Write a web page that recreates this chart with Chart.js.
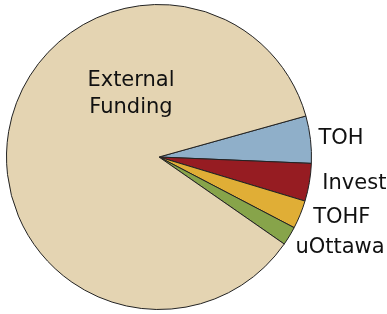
<!DOCTYPE html>
<html>
<head>
<meta charset="utf-8">
<script src="https://cdn.jsdelivr.net/npm/chart.js@4/dist/chart.umd.min.js"></script>
<style>
html,body{margin:0;padding:0;background:#fff;}
#wrap{width:387px;height:314px;position:relative;}
</style>
</head>
<body>
<div id="wrap"><canvas id="c" width="387" height="314"></canvas></div>
<script>
const categories = ["TOH", "Invest", "TOHF", "uOttawa", "External Funding"];
const shares = [5, 4, 3, 2, 86];
const sliceColors = ["#8FAFC9", "#961C22", "#E0AE36", "#87A44A", "#E4D4B2"];

// label placement (style only): offset from each slice's outer mid-point
const labelOffsets = [[8, -1], [13, 1], [13, 3], [6, 12]];
const bigLabelOffset = [-28, -63];

const labelPlugin = {
  id: 'sliceLabels',
  afterDatasetsDraw(chart) {
    const ctx = chart.ctx;
    const meta = chart.getDatasetMeta(0);
    ctx.save();
    ctx.fillStyle = '#111';
    ctx.font = '21px "DejaVu Sans"';
    ctx.textBaseline = 'middle';
    meta.data.forEach((arc, i) => {
      const p = arc.getProps(['x', 'y', 'startAngle', 'endAngle', 'outerRadius'], true);
      if (i < labelOffsets.length) {
        const mid = (p.startAngle + p.endAngle) / 2;
        const ox = p.x + Math.cos(mid) * p.outerRadius;
        const oy = p.y + Math.sin(mid) * p.outerRadius;
        ctx.textAlign = 'left';
        ctx.fillText(categories[i], ox + labelOffsets[i][0], oy + labelOffsets[i][1]);
      } else {
        ctx.textAlign = 'center';
        const words = categories[i].split(' ');
        const cx = p.x + bigLabelOffset[0];
        const cy = p.y + bigLabelOffset[1];
        ctx.fillText(words[0], cx, cy - 13.5);
        ctx.fillText(words[1], cx, cy + 13.5);
      }
    });
    ctx.restore();
  }
};

new Chart(document.getElementById('c'), {
  type: 'pie',
  data: {
    labels: categories,
    datasets: [{
      data: shares,
      backgroundColor: sliceColors,
      borderColor: '#222',
      borderWidth: 1
    }]
  },
  options: {
    responsive: false,
    animation: false,
    rotation: 74.4,
    layout: { padding: { top: 4, bottom: 4, left: 0, right: 69 } },
    plugins: {
      legend: { display: false },
      tooltip: { enabled: false }
    }
  },
  plugins: [labelPlugin]
});
</script>
</body>
</html>
